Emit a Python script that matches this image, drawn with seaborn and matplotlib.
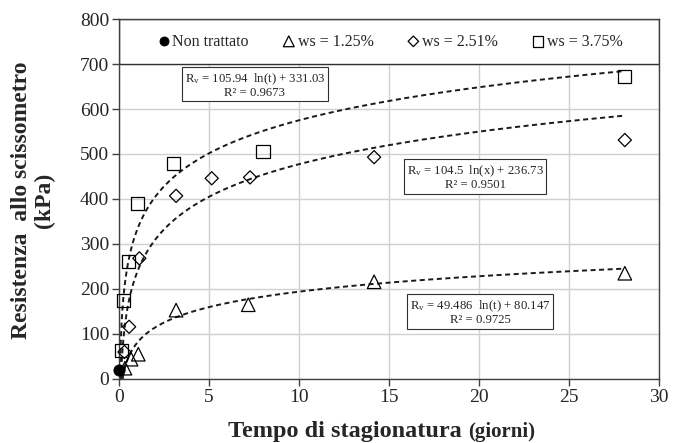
import numpy as np
import matplotlib.pyplot as plt
from matplotlib.patches import Rectangle
import seaborn as sns

sns.set_style('white')
plt.rcParams['font.family'] = ['Liberation Serif', 'DejaVu Serif']
plt.rcParams['mathtext.fontset'] = 'custom'
plt.rcParams['mathtext.rm'] = 'Liberation Serif'
plt.rcParams['mathtext.it'] = 'Liberation Serif:italic'

# data (tempo in giorni, resistenza in kPa)
t_untreated = [0.0]
r_untreated = [20]

t_125 = [0.33, 0.67, 1.07, 3.17, 7.18, 14.17, 28.1]
r_125 = [24, 44, 55, 153, 165, 216, 235]

t_251 = [0.3, 0.56, 1.13, 3.17, 5.15, 7.28, 14.17, 28.1]
r_251 = [60, 116, 268, 407, 446, 448, 493, 531]

t_375 = [0.15, 0.24, 0.52, 1.02, 3.02, 8.0, 28.07]
r_375 = [64, 174, 262, 390, 478, 505, 672]

# log fits as printed on the chart: Rv = a ln(t) + b
fit_125 = (49.486, 80.147)
fit_251 = (104.5, 236.73)
fit_375 = (105.94, 331.03)

labels = ['Non trattato', 'ws = 1.25%', 'ws = 2.51%', 'ws = 3.75%']
eq_texts = [
    'R$_\\mathrm{v}$ = 105.94  ln(t) + 331.03\nR² = 0.9673',
    'R$_\\mathrm{v}$ = 104.5  ln(x) + 236.73\nR² = 0.9501',
    'R$_\\mathrm{v}$ = 49.486  ln(t) + 80.147\nR² = 0.9725',
]
eq_pos = [(7.55, 653), (19.8, 448), (20.06, 148)]

x_ticks = np.arange(0, 31, 5)
y_ticks = np.arange(0, 801, 100)

fig = plt.figure(figsize=(6.74, 4.43), dpi=100)
ax = fig.add_axes([0.1766, 0.1445, 0.8012, 0.8126])

# fitted curves
for a, b in [fit_125, fit_251, fit_375]:
    t0 = np.exp(-b / a)
    tt = np.geomspace(t0, 28, 400)
    sns.lineplot(x=tt, y=a * np.log(tt) + b, ax=ax, color='#1a1a1a', lw=1.4,
                 linestyle=(0, (2.6, 1.8)), zorder=2, sort=False, errorbar=None)

mk = dict(facecolor='none', edgecolor='black', linewidth=0.9, zorder=3, clip_on=False)
h0 = sns.scatterplot(x=t_untreated, y=r_untreated, ax=ax, marker='o', s=65,
                     color='black', edgecolor='black', zorder=4, clip_on=False).collections[-1]
h1 = sns.scatterplot(x=t_125, y=r_125, ax=ax, marker='^', s=95, **mk).collections[-1]
h2 = sns.scatterplot(x=t_251, y=r_251, ax=ax, marker='D', s=45, **mk).collections[-1]
h3 = sns.scatterplot(x=t_375, y=r_375, ax=ax, marker='s', s=90, **mk).collections[-1]

ax.set_xlim(0, 30)
ax.set_ylim(0, 800)
ax.set_xticks(x_ticks)
ax.set_yticks(y_ticks)
ax.grid(True, color='#d0d0d0', lw=1)
ax.set_axisbelow(True)
ax.set_xlabel('')
ax.set_ylabel('')
for s in ax.spines.values():
    s.set_color('#404040')
    s.set_linewidth(1)
ax.tick_params(direction='out', length=5, width=1, color='#404040',
               labelsize=14, pad=2, left=True, bottom=True)

# legend band across the top
ax.add_patch(Rectangle((0, 700), 30, 100, facecolor='white', edgecolor='#303030',
                       lw=1, zorder=2.5))
ax.legend([h0, h1, h2, h3], labels, loc='center', bbox_to_anchor=(0.5, 0.9375), ncol=4,
          frameon=False, fontsize=11.5, handletextpad=0.05, columnspacing=2.0,
          handlelength=1.0, markerscale=0.8)

for txt, (x, y) in zip(eq_texts, eq_pos):
    ax.text(x, y, txt, ha='center', va='center', fontsize=9.2, linespacing=1.0,
            multialignment='center', zorder=5,
            bbox=dict(boxstyle='square,pad=0.2', facecolor='white',
                      edgecolor='#303030', lw=0.8))

# axis titles
fig.text(33 / 674, 1 - 200 / 443, 'Resistenza  allo scissometro\n(kPa)', rotation=90,
         ha='center', va='center', multialignment='center', fontsize=17,
         fontweight='bold', linespacing=1.15)
t1 = fig.text(228 / 674, 1 - 437 / 443, 'Tempo di stagionatura ', ha='left',
              va='baseline', fontsize=17.5, fontweight='bold')
fig.canvas.draw()
bb = t1.get_window_extent()
fig.text(bb.x1 / fig.bbox.width, 1 - 437 / 443, '(giorni)', ha='left',
         va='baseline', fontsize=15, fontweight='bold')

fig.savefig('out.png', dpi=100)
